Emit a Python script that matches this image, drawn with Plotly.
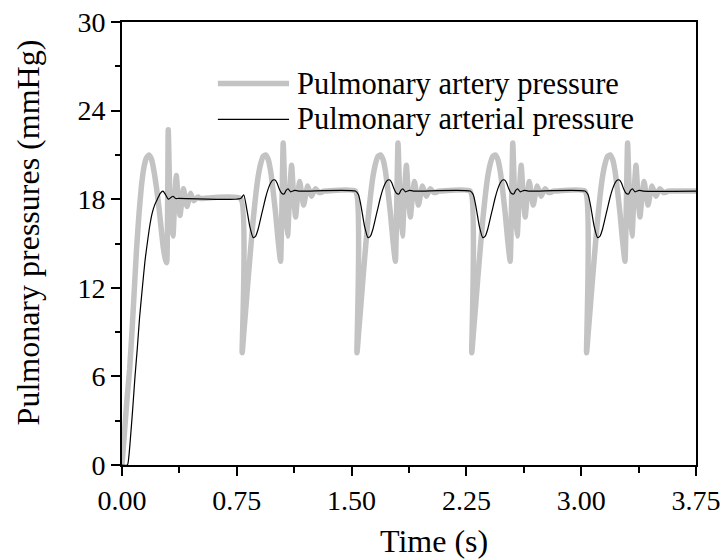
import plotly.graph_objects as go

# ---------------- data ----------------
# first (start-up) cycle, artery pressure (grey)
artery_first_t = [0.000, 0.016, 0.033, 0.050, 0.065, 0.080, 0.095, 0.111, 0.127, 0.144,
                  0.160, 0.176, 0.193, 0.209, 0.225, 0.242, 0.256, 0.270, 0.284, 0.292,
                  0.302, 0.316, 0.333, 0.345, 0.355, 0.367, 0.379, 0.391, 0.402, 0.414,
                  0.425, 0.437, 0.448, 0.459, 0.470, 0.484, 0.497, 0.510, 0.523]
artery_first_v = [0.0, 2.2, 4.5, 6.5, 9.0, 11.8, 14.6, 17.0, 18.9, 20.2,
                  20.8, 21.0, 20.7, 19.9, 18.8, 17.4, 16.0, 14.7, 13.9, 13.7,
                  22.7, 17.0, 15.5, 18.2, 19.6, 18.0, 16.9, 17.9, 18.7, 18.0,
                  17.5, 18.0, 18.4, 18.1, 17.9, 18.05, 18.15, 18.05, 18.05]

# first cycle, arterial pressure (black)
arterial_first_t = [0.000, 0.035, 0.045, 0.055, 0.070, 0.085, 0.100, 0.115, 0.133, 0.150,
                    0.165, 0.180, 0.196, 0.213, 0.231, 0.250, 0.268, 0.285, 0.303, 0.318,
                    0.333, 0.350, 0.370]
arterial_first_v = [0.0, 0.0, 0.6, 1.8, 3.8, 6.0, 7.9, 10.0, 12.0, 13.8,
                    15.0, 16.1, 17.0, 17.6, 18.0, 18.4, 18.55, 18.3, 18.0, 18.1,
                    18.2, 18.05, 18.05]

# later cycles: times after each beat onset
artery_cycle_dt = [0.010, 0.022, 0.033, 0.049, 0.065, 0.082, 0.098, 0.114, 0.131, 0.147,
                   0.163, 0.180, 0.196, 0.212, 0.229, 0.245, 0.261, 0.278, 0.292, 0.307,
                   0.320, 0.333, 0.346, 0.359, 0.372, 0.386, 0.399, 0.412, 0.425, 0.438,
                   0.451, 0.464, 0.477, 0.490, 0.507, 0.523, 0.542, 0.562]
artery_cycle_v = [7.6, 9.1, 10.5, 12.6, 14.6, 16.6, 18.2, 19.5, 20.4, 20.9,
                  21.0, 20.7, 19.9, 18.6, 17.0, 15.2, 13.8, 21.8, 17.5, 15.5,
                  18.4, 20.3, 18.2, 16.8, 18.2, 19.2, 18.3, 17.6, 18.3, 18.9,
                  18.5, 18.2, 18.5, 18.7, 18.5, 18.45, 18.55, 18.55]

arterial_cycle_dt = [0.020, 0.039, 0.059, 0.082, 0.098, 0.115, 0.131, 0.147, 0.163, 0.180,
                     0.196, 0.212, 0.225, 0.238, 0.252, 0.268, 0.284, 0.297, 0.310, 0.327,
                     0.353, 0.379]
arterial_cycle_v = [18.3, 17.4, 16.2, 15.4, 15.5, 16.0, 16.7, 17.4, 18.1, 18.7,
                    19.1, 19.3, 19.3, 19.1, 18.7, 18.4, 18.35, 18.6, 18.7, 18.5,
                    18.6, 18.55]

beat_onsets = [0.775, 1.525, 2.275, 3.025]
t_end = 3.75

x_ticks = [0.00, 0.75, 1.50, 2.25, 3.00, 3.75]
x_tick_labels = ["0.00", "0.75", "1.50", "2.25", "3.00", "3.75"]
y_ticks = [0, 6, 12, 18, 24, 30]

series_names = ["Pulmonary artery pressure", "Pulmonary arterial pressure"]
series_colors = ["#c3c3c3", "#000000"]
series_widths = [5.5, 1.2]


def build(first_t, first_v, cyc_dt, cyc_v):
    t = list(first_t)
    v = list(first_v)
    for s in beat_onsets:
        t.append(s)
        v.append(v[-1])
        t.extend(s + d for d in cyc_dt)
        v.extend(cyc_v)
    t.append(t_end)
    v.append(v[-1])
    return t, v


gt, gv = build(artery_first_t, artery_first_v, artery_cycle_dt, artery_cycle_v)
bt, bv = build(arterial_first_t, arterial_first_v, arterial_cycle_dt, arterial_cycle_v)

FONT = "Liberation Serif, Times New Roman, serif"

fig = go.Figure()
fig.add_trace(go.Scatter(x=gt, y=gv, mode="lines", name=series_names[0], showlegend=False,
                         line=dict(color=series_colors[0], width=series_widths[0],
                                   shape="spline", smoothing=0.4)))
fig.add_trace(go.Scatter(x=bt, y=bv, mode="lines", name=series_names[1], showlegend=False,
                         line=dict(color=series_colors[1], width=series_widths[1],
                                   shape="spline", smoothing=0.6)))

axis_common = dict(
    showline=True, linecolor="black", linewidth=2, mirror=True,
    ticks="outside", ticklen=9, tickwidth=2, tickcolor="black",
    showgrid=False, zeroline=False,
    tickfont=dict(family=FONT, size=28, color="black"),
)

fig.update_xaxes(range=[0, 3.75], tickvals=x_ticks, ticktext=x_tick_labels,
                 minor=dict(dtick=0.375, ticks="outside", ticklen=6, tickwidth=2,
                            tickcolor="black", showgrid=False),
                 **axis_common)
fig.update_yaxes(range=[0, 30], tickvals=y_ticks,
                 minor=dict(dtick=3, ticks="outside", ticklen=5, tickwidth=2,
                            tickcolor="black", showgrid=False),
                 **axis_common)

# manual legend (long sample lines as in the reference)
legend_shapes = []
legend_annots = []
legend_rows_y = [0.861, 0.780]   # paper y of each legend row
for name, col, w, ry in zip(series_names, series_colors, series_widths, legend_rows_y):
    legend_shapes.append(dict(type="line", xref="paper", yref="paper",
                              x0=0.167, x1=0.291, y0=ry, y1=ry,
                              line=dict(color=col, width=w)))
    legend_annots.append(dict(text=name, xref="paper", yref="paper", x=0.302, y=ry,
                              xanchor="left", yanchor="middle", showarrow=False,
                              font=dict(family=FONT, size=30.5, color="black")))

fig.update_layout(
    width=721, height=560,
    margin=dict(l=122, r=25, t=22, b=95, autoexpand=False),
    paper_bgcolor="white", plot_bgcolor="white",
    font=dict(family=FONT, color="black"),
    showlegend=False,
    shapes=legend_shapes,
    annotations=legend_annots + [
        dict(text="Time (s)", xref="paper", yref="paper", x=0.5436, y=-0.1716,
             xanchor="center", yanchor="middle", showarrow=False,
             font=dict(family=FONT, size=32, color="black")),
        dict(text="Pulmonary pressures (mmHg)", xref="paper", yref="paper",
             x=-0.163, y=0.526, xanchor="center", yanchor="middle", textangle=-90,
             showarrow=False, font=dict(family=FONT, size=32, color="black")),
    ],
)

# remove the browser's default page margin so the figure fills the window exactly
fig.write_html("out.html",
               config={"displayModeBar": False},
               post_script="document.body.style.margin='0px';document.body.style.overflow='hidden';")
